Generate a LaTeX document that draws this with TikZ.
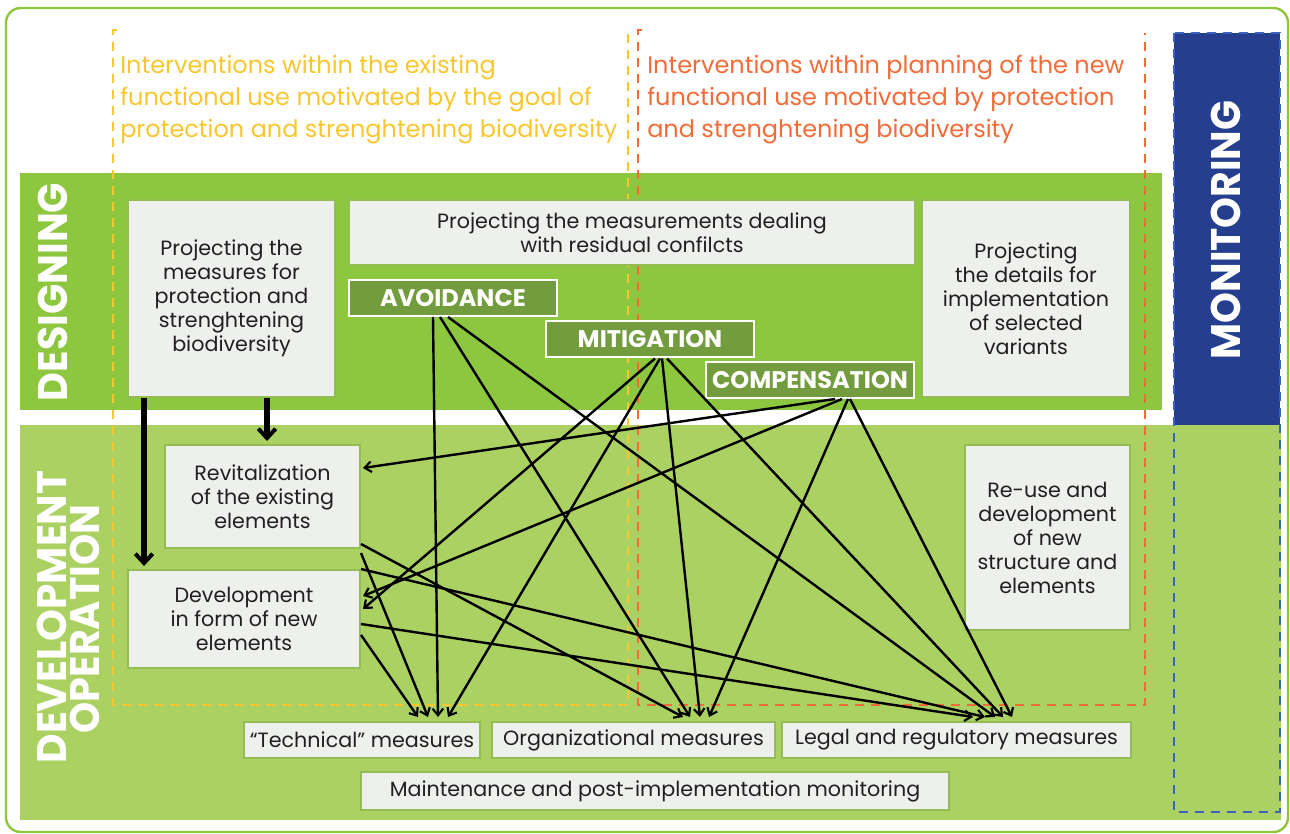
\documentclass[tikz,border=0pt]{standalone}
\usepackage{fontspec}
\setmainfont{Poppins}
\usetikzlibrary{arrows.meta,calc,positioning}

\definecolor{frameGreen}{HTML}{8DC63F}
\definecolor{designGreen}{HTML}{8DC63F}
\definecolor{devGreen}{HTML}{AAD162}
\definecolor{labelGreen}{HTML}{739C3E}
\definecolor{boxGray}{HTML}{EEF0EE}
\definecolor{boxEdge}{HTML}{93BC55}
\definecolor{monBlue}{HTML}{253F8E}
\definecolor{monDash}{HTML}{3B63BD}
\definecolor{yellowLine}{HTML}{F9C62E}
\definecolor{orangeLine}{HTML}{F26B38}
\definecolor{inkText}{HTML}{231F20}

\tikzset{
  box/.style={
    draw=boxEdge,
    line width=1.5pt,
    fill=boxGray,
    inner sep=0pt,
    align=center,
    text=inkText,
    font=\fontsize{15.5}{18}\selectfont,
  },
  tag/.style={
    draw=white,
    line width=1.5pt,
    fill=labelGreen,
    text=white,
    inner sep=0pt,
    minimum width=156pt,
    minimum height=27pt,
    font=\bfseries\fontsize{18}{18}\selectfont,
  },
  bigword/.style={rotate=90, text=white, inner sep=0pt, font=\bfseries\fontsize{31}{31}\selectfont},
  header/.style={anchor=north west, inner sep=0pt, align=left, font=\fontsize{18}{24}\selectfont},
  zone/.style={line width=1.9pt, dash pattern=on 7pt off 5pt},
  flow/.style={line width=1.8pt, -{Straight Barb[length=5pt,width=8pt,line width=1.6pt]}},
  thickflow/.style={line width=3.8pt, -{Straight Barb[length=7pt,width=13pt,line width=3pt]}},
}

\begin{document}
\begin{tikzpicture}[x=0.75pt, y=-0.75pt]
  \useasboundingbox (0,0) rectangle (1290,834);

  % frame and bands
  \draw[frameGreen, line width=1.8pt, rounded corners=11pt] (6,8) rectangle (1288,832);
  \fill[designGreen] (20,173) rectangle (1162,410);
  \fill[devGreen] (20,425) rectangle (1281,820);
  \fill[monBlue] (1174,33) rectangle (1280,425);
  \draw[monDash, zone] (1174,33) rectangle (1280,812);

  % the two intervention zones
  \draw[yellowLine, zone] (117,30) -- (113,30) -- (113,705) -- (628,705) -- (628,33);
  \draw[orangeLine, zone] (642,30) -- (638,30) -- (638,705) -- (1145,705) -- (1145,33);

  \node[header, text=yellowLine] (existing) at (120,55)
    {Interventions within the existing\\functional use motivated by the goal of\\protection and strenghtening biodiversity};
  \node[header, text=orangeLine] (planning) at (647,55)
    {Interventions within planning of the new\\functional use motivated by protection\\and strenghtening biodiversity};

  \node[bigword] (designing) at (53,292) {\scalebox{0.96}[1]{DESIGNING}};
  \node[bigword] (monitoring) at (1226,230) {\scalebox{0.95}[1]{MONITORING}};
  \node[bigword] (development) at (52,617) {\scalebox{0.98}[1]{DEVELOPMENT}};
  \node[bigword] (operation) at (85,619) {\scalebox{0.96}[1]{OPERATION}};

  % designing boxes
  \node[box, minimum width=155.25pt, minimum height=147.75pt] (protect) at (231.5,298.5)
    {Projecting the\\measures for\\protection and\\strenghtening\\biodiversity};
  \node[box, minimum width=424.5pt, minimum height=48.75pt] (residual) at (632,232.5)
    {Projecting the measurements dealing\\with residual confilcts};
  \node[box, minimum width=156pt, minimum height=147.75pt] (details) at (1026,298.5)
    {Projecting\\the details for\\implementation\\of selected\\variants};

  \node[tag] (avoid) at (453,298) {AVOIDANCE};
  \node[tag] (mitig) at (650,339.5) {MITIGATION};
  \node[tag] (comp) at (810,380) {COMPENSATION};

  % development boxes
  \node[box, minimum width=146.25pt, minimum height=77.25pt] (revit) at (262.5,496.5)
    {Revitalization\\of the existing\\elements};
  \node[box, minimum width=174pt, minimum height=73.5pt] (devel) at (244,619)
    {Development\\in form of new\\elements};
  \node[box, minimum width=123.75pt, minimum height=138.75pt] (reuse) at (1047.5,537.5)
    {Re-use and\\development\\of new\\structure and\\elements};

  \node[box, minimum width=177pt, minimum height=27pt] (tech) at (362,740) {“Technical” measures};
  \node[box, minimum width=212.25pt, minimum height=27pt] (org) at (633.5,740) {Organizational measures};
  \node[box, minimum width=261.75pt, minimum height=27pt] (legal) at (956.5,740) {Legal and regulatory measures};
  \node[box, minimum width=441pt, minimum height=28.5pt] (maint) at (655,791) {Maintenance and post-implementation monitoring};

  % thick arrows
  \draw[thickflow] ($(protect.south west)+(17,0)$) -- ($(devel.north west)+(17,-3)$);
  \draw[thickflow] ($(protect.south)+(35.5,0)$) -- ($(revit.north)+(4.5,-3)$);

  % avoidance
  \draw[flow] ($(avoid.south)+(-20,0)$) -- ($(tech.north)+(76,-4)$);
  \draw[flow] ($(avoid.south)+(-13,0)$) -- ($(org.north)+(56.5,-4)$);
  \draw[flow] ($(avoid.south)+(-5,0)$) -- ($(legal.north)+(38.5,-4)$);
  % mitigation
  \draw[flow] ($(mitig.south)+(5,0)$) -- ($(devel.east)+(2,-10)$);
  \draw[flow] ($(mitig.south)+(10,0)$) -- ($(tech.north)+(86,-4)$);
  \draw[flow] ($(mitig.south)+(12,0)$) -- ($(org.north)+(66.5,-4)$);
  \draw[flow] ($(mitig.south)+(17,0)$) -- ($(legal.north)+(46.5,-4)$);
  % compensation
  \draw[flow] ($(comp.south)+(25,0)$) -- ($(revit.east)+(2,-28.5)$);
  \draw[flow] ($(comp.south)+(32,0)$) -- ($(devel.east)+(2,-23)$);
  \draw[flow] ($(comp.south)+(38,0)$) -- ($(org.north)+(75.5,-4)$);
  \draw[flow] ($(comp.south)+(40,0)$) -- ($(legal.north)+(55.5,-4)$);
  % revitalization and development
  \draw[flow] ($(revit.south east)+(0,-5)$) -- ($(org.north)+(49.5,-4)$);
  \draw[flow] ($(revit.south east)+(0,4)$) -- ($(tech.north)+(66,-4)$);
  \draw[flow] (devel.north east) -- ($(legal.north)+(28.5,-4)$);
  \draw[flow] ($(devel.east)+(0,5)$) -- ($(legal.north)+(16.5,-4)$);
  \draw[flow] ($(devel.east)+(0,16)$) -- ($(tech.north)+(56,-4)$);
\end{tikzpicture}
\end{document}
